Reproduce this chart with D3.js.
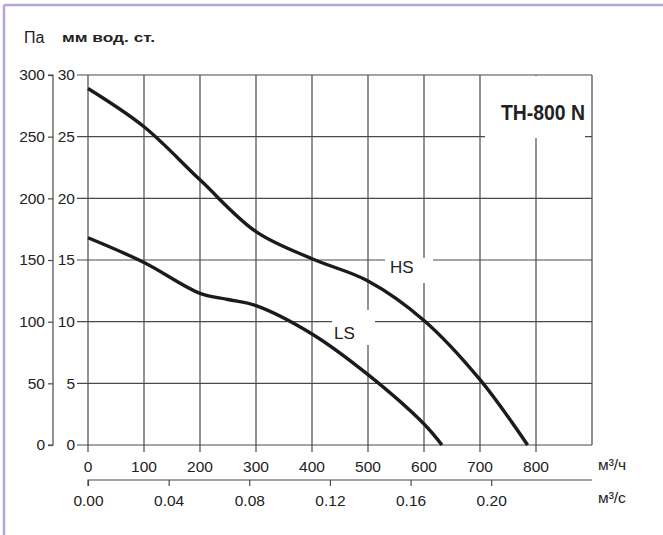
<!DOCTYPE html>
<html>
<head>
<meta charset="utf-8">
<script src="https://cdn.jsdelivr.net/npm/d3@7"></script>
<style>
  html, body { margin: 0; padding: 0; background: #fff; }
  svg { display: block; }
  text { font-family: "Liberation Sans", Arial, sans-serif; fill: #222; }
</style>
</head>
<body>
<svg id="chart" width="663" height="535"></svg>
<script>
// Fan curve, TH-800 N: static pressure vs air flow, high (HS) and low (LS) speed
const flowTicks = [0, 100, 200, 300, 400, 500, 600, 700, 800];       // m³/h
const flowSecTicks = [0.00, 0.04, 0.08, 0.12, 0.16, 0.20];            // m³/s
const paTicks = [0, 50, 100, 150, 200, 250, 300];                      // Pa
const mmTicks = [0, 5, 10, 15, 20, 25, 30];                            // mm w.c.

const hsFlow     = [0, 100, 200, 300, 400, 500, 600, 700, 785];
const hsPressure = [289, 258, 215, 173, 151, 133, 101, 53, 0];
const lsFlow     = [0, 100, 200, 250, 300, 400, 500, 600, 632];
const lsPressure = [168, 148, 123, 118, 113, 90, 57, 17, 0];

const svg = d3.select("#chart");
const W = 663, H = 535;
const FONT = "Liberation Sans, Arial, sans-serif";

// page frame
svg.append("line").attr("x1", 4).attr("x2", W).attr("y1", 5).attr("y2", 5)
  .attr("stroke", "#b7a6d3").attr("stroke-width", 2.5);
svg.append("line").attr("x1", 4).attr("x2", 4).attr("y1", 5).attr("y2", H)
  .attr("stroke", "#b7a6d3").attr("stroke-width", 2.5);

const x = d3.scaleLinear().domain([0, 900]).range([88, 592]);
const xs = d3.scaleLinear().domain([0, 0.25]).range([x(0), x(900)]); // m³/s = m³/h / 3600
const y = d3.scaleLinear().domain([0, 300]).range([445, 75]);
const ymm = d3.scaleLinear().domain([0, 30]).range([445, 75]);

const gridColor = "#4a4a4a";

// grid: vertical lines at each 100 m³/h plus right edge, extended below as ticks
const vLines = flowTicks.concat([900]);
svg.append("g").selectAll("line").data(vLines).join("line")
  .attr("x1", d => x(d)).attr("x2", d => x(d))
  .attr("y1", y(300)).attr("y2", d => d === 900 ? y(0) : y(0) + 7)
  .attr("stroke", gridColor).attr("stroke-width", 1.2);

// horizontal lines at each 5 mm, extended to the left as ticks
svg.append("g").selectAll("line").data(mmTicks).join("line")
  .attr("x1", 77).attr("x2", x(900))
  .attr("y1", d => ymm(d)).attr("y2", d => ymm(d))
  .attr("stroke", gridColor).attr("stroke-width", 1.2);

// mm w.c. labels
svg.append("g").selectAll("text").data(mmTicks).join("text")
  .attr("x", 75).attr("y", d => ymm(d)).attr("dy", "0.35em")
  .attr("text-anchor", "end").attr("font-size", 15.5).text(d => d);

// Pa axis (separate vertical line on the left)
const paAxis = d3.axisLeft(y).tickValues(paTicks).tickSize(5).tickPadding(3);
const gPa = svg.append("g").attr("transform", "translate(53,0)").call(paAxis);
gPa.select(".domain").attr("stroke", gridColor).attr("stroke-width", 1.2)
  .attr("d", `M-5,${y(300)}H0V${y(0)}H-5`);
gPa.selectAll(".tick line").attr("stroke", gridColor).attr("stroke-width", 1.2);
gPa.selectAll(".tick text").attr("font-size", 15.5).attr("font-family", FONT).attr("fill", "#222");

// m³/h labels
svg.append("g").selectAll("text").data(flowTicks).join("text")
  .attr("x", d => x(d)).attr("y", 467).attr("dy", "0.35em")
  .attr("text-anchor", "middle").attr("font-size", 15.5).text(d => d);

// m³/s axis
const sAxis = d3.axisBottom(xs).tickValues(flowSecTicks).tickSize(6).tickPadding(9)
  .tickFormat(d3.format(".2f"));
const gS = svg.append("g").attr("transform", "translate(0,480)").call(sAxis);
gS.select(".domain").attr("stroke", gridColor).attr("stroke-width", 1.2)
  .attr("d", `M${x(0)},6V0H${x(900)}`);
gS.selectAll(".tick line").attr("stroke", gridColor).attr("stroke-width", 1.2);
gS.selectAll(".tick text").attr("font-size", 15.5).attr("font-family", FONT).attr("fill", "#222");

// units
svg.append("text").attr("x", 598).attr("y", 470).attr("font-size", 15.5).text("м³/ч");
svg.append("text").attr("x", 598).attr("y", 503).attr("font-size", 15.5).text("м³/с");
svg.append("text").attr("x", 24).attr("y", 43).attr("font-size", 16).text("Па");
svg.append("text").attr("x", 62).attr("y", 42).attr("font-size", 13.5).attr("font-weight", "bold")
  .attr("textLength", 93).attr("lengthAdjust", "spacingAndGlyphs").text("мм вод. ст.");

// clearings behind the labels inside the grid
const white = (x0, y0, w, h) => svg.append("rect").attr("x", x0).attr("y", y0)
  .attr("width", w).attr("height", h).attr("fill", "#fff");
white(485, 76, 100, 62);
white(385, 258, 48, 25);
white(332, 310, 43, 35);

// curves
const line = d3.line().x(d => x(d[0])).y(d => y(d[1])).curve(d3.curveCatmullRom.alpha(0.5));
const hs = hsFlow.map((f, i) => [f, hsPressure[i]]);
const ls = lsFlow.map((f, i) => [f, lsPressure[i]]);
[hs, ls].forEach(pts => svg.append("path").datum(pts).attr("d", line)
  .attr("fill", "none").attr("stroke", "#1c1a1a").attr("stroke-width", 3.4));

// curve labels and model name
svg.append("text").attr("x", 390).attr("y", 273).attr("font-size", 17).text("HS");
svg.append("text").attr("x", 334).attr("y", 339).attr("font-size", 17).text("LS");
svg.append("text").attr("x", 501).attr("y", 120).attr("font-size", 22).attr("font-weight", "bold")
  .attr("textLength", 84).attr("lengthAdjust", "spacingAndGlyphs").text("TH-800 N");
</script>
</body>
</html>
